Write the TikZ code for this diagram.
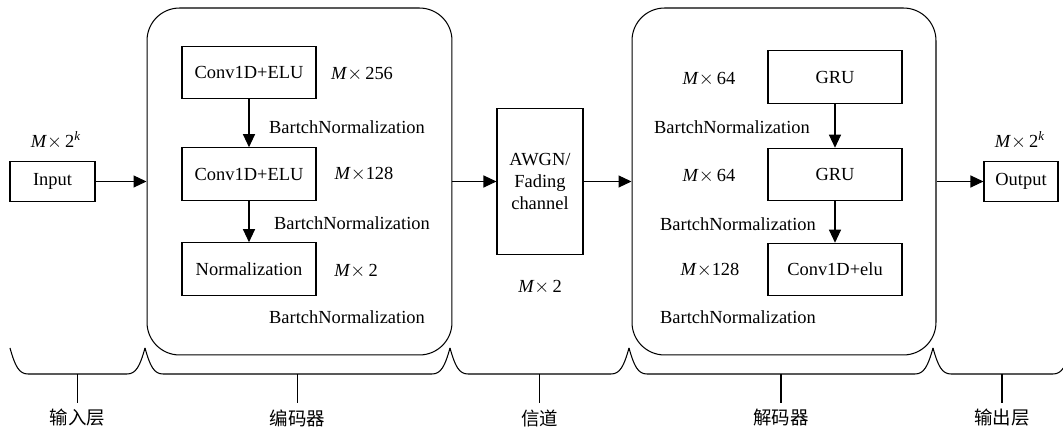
\documentclass[tikz,border=0pt]{standalone}
\usepackage{fontspec}
\setmainfont{Liberation Serif}
\newfontfamily\cjk{Noto Sans CJK SC}
\usetikzlibrary{arrows.meta}

\begin{document}
\begin{tikzpicture}[x=0.02cm, y=-0.02cm, line width=0.6pt,
	font=\fontsize{10.5}{12.6}\selectfont,
	block/.style={draw=black, text=black, shape=rectangle, minimum width=2.68cm, minimum height=1.05cm},
	stage/.style={draw=black, shape=rectangle, rounded corners=0.65cm, minimum height=6.94cm},
	flow/.style={-{Triangle[length=2.6mm, width=2.4mm]}}]
	\useasboundingbox (0,0) rectangle (1063,431);

	\node[stage, minimum width=6.1cm] (enc) at (299.5,181.5) {};
	\node[stage, minimum width=6.08cm] (dec) at (784,181.5) {};

	\node[draw=black, shape=rectangle, minimum width=1.7cm, minimum height=0.8cm] (inp) at (52.5,181.5) {Input};
	\node[draw=black, shape=rectangle, minimum width=1.48cm, minimum height=0.8cm] (out) at (1021,181.5) {Output};
	\node[draw=black, shape=rectangle, minimum width=1.72cm, minimum height=2.92cm, align=center] (chan) at (540,181.5) {AWGN/\\Fading\\channel};

	\node[block] (enc_1) at (249,72.5) {Conv1D+ELU};
	\node[block] (enc_2) at (249,174) {Conv1D+ELU};
	\node[block] (enc_3) at (249,269) {Normalization};

	\node[block] (dec_1) at (835,77) {GRU};
	\node[block] (dec_2) at (835,174.5) {GRU};
	\node[block] (dec_3) at (835,269.5) {Conv1D+elu};

	\node (dim_in) at (56,140) {\textit{M}$\times$\,2\textsuperscript{\textit{k}}};
	\node (dim_out) at (1020,140) {\textit{M}$\times$\,2\textsuperscript{\textit{k}}};
	\node (dim_e1) at (362,74) {\textit{M}$\times$\,256};
	\node (dim_e2) at (364,174) {\textit{M}$\times$128};
	\node (dim_e3) at (356,271) {\textit{M}$\times$\,2};
	\node (dim_ch) at (540,287) {\textit{M}$\times$\,2};
	\node (dim_d1) at (709,79) {\textit{M}$\times$\,64};
	\node (dim_d2) at (709,176) {\textit{M}$\times$\,64};
	\node (dim_d3) at (710,270) {\textit{M}$\times$128};

	\node (bn_e1) at (347,127) {BartchNormalization};
	\node (bn_e2) at (352,223) {BartchNormalization};
	\node (bn_e3) at (347,317) {BartchNormalization};
	\node (bn_d1) at (732,127) {BartchNormalization};
	\node (bn_d2) at (738,224) {BartchNormalization};
	\node (bn_d3) at (738,317) {BartchNormalization};

	\draw[flow] (inp.east) -- (enc.west);
	\draw[flow] (enc.east) -- (chan.west);
	\draw[flow] (chan.east) -- (dec.west);
	\draw[flow] (dec.east) -- (out.west);

	\draw[flow] (enc_1.south) -- (enc_2.north);
	\draw[flow] (enc_2.south) -- (enc_3.north);
	\draw[flow] (dec_1.south) -- (dec_2.north);
	\draw[flow] (dec_2.south) -- (dec_3.north);

	\foreach \a/\b/\name/\txt in {10/145/l_in/输入层, 145/450/l_enc/编码器, 450/629/l_ch/信道, 629/933/l_dec/解码器, 933/1071/l_out/输出层}{
		\draw (\a,348) .. controls (\a+5,366) and (\a+9,374) .. (\a+18,374) -- (\b-18,374)
			.. controls (\b-9,374) and (\b-5,366) .. (\b,348);
		\coordinate (\name_tip) at ({(\a+\b)/2},374);
		\node[font=\cjk\fontsize{10.5}{12.6}\selectfont] (\name) at ({(\a+\b)/2},418) {\txt};
		\draw (\name_tip) -- (\name.north);
	}
\end{tikzpicture}
\end{document}
